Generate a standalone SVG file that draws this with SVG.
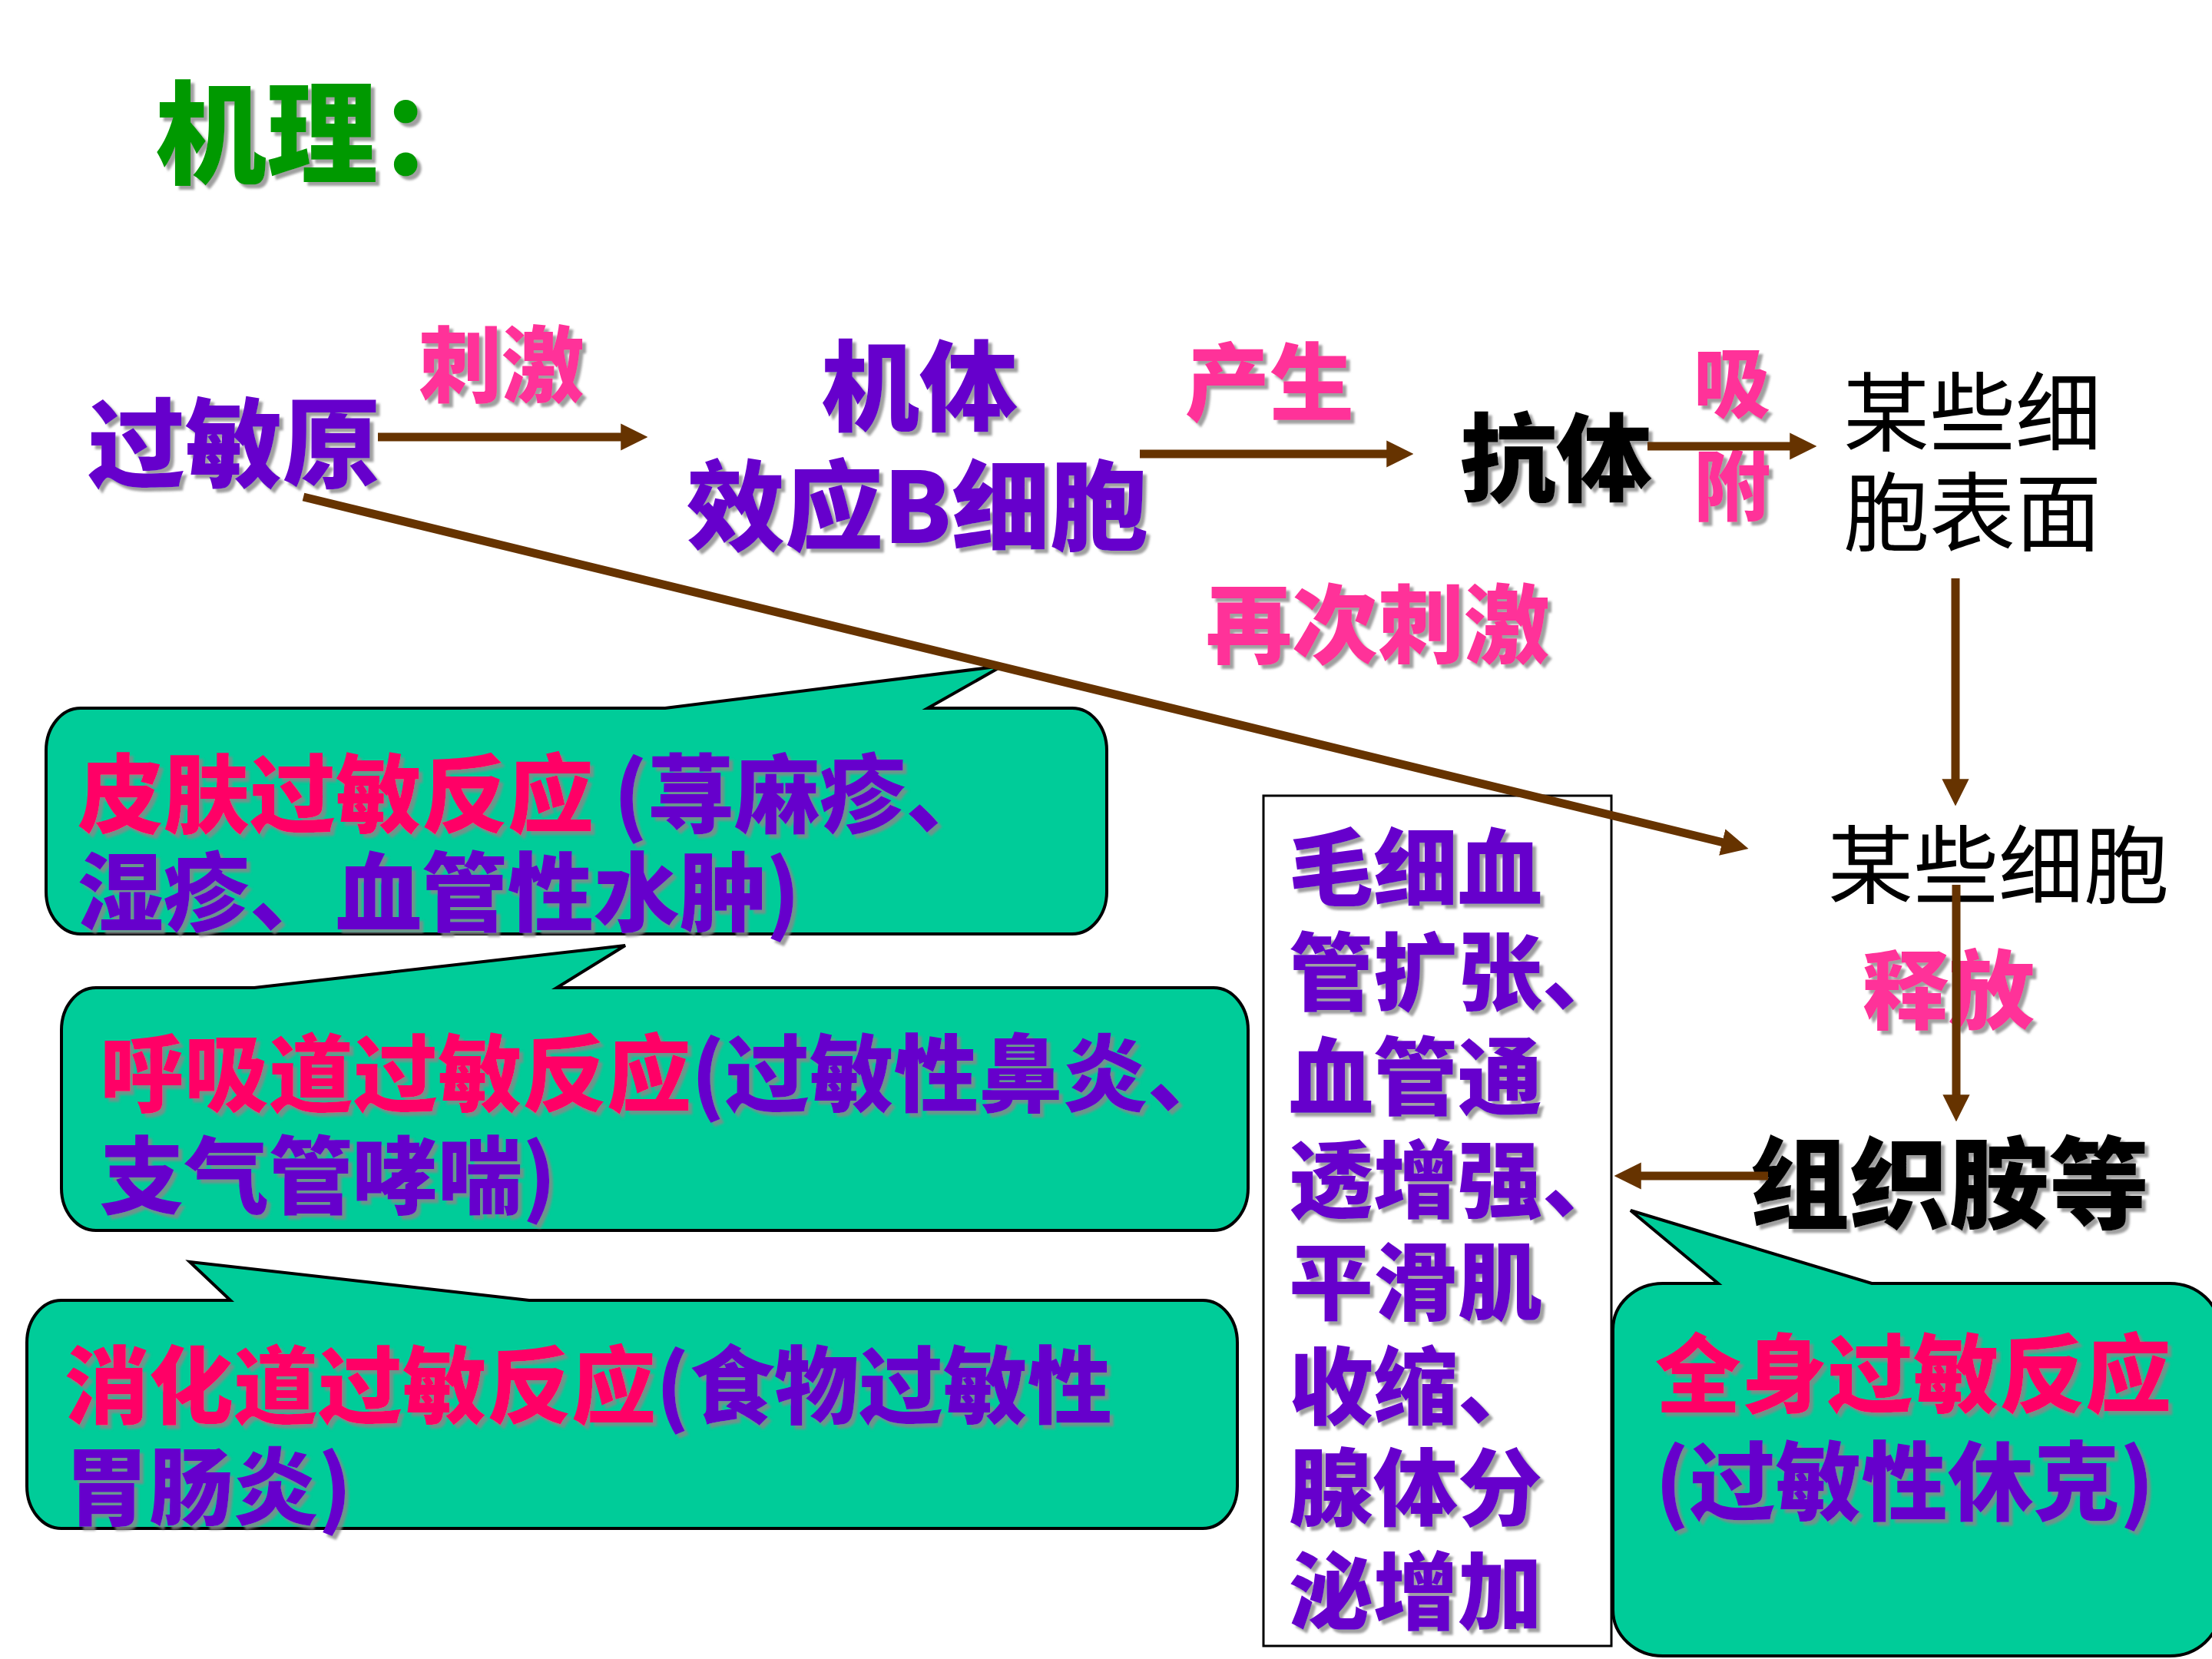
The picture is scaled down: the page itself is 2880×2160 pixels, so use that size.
<svg xmlns="http://www.w3.org/2000/svg" width="2880" height="2160" viewBox="0 0 2880 2160">
<defs>
<style>
.b{font-family:"Noto Sans CJK SC","Noto Sans",sans-serif;font-weight:900;filter:url(#sh)}
.n{font-family:"Noto Sans CJK SC","Noto Sans",sans-serif;font-weight:400;fill:#000}
.pu{fill:#6600CC}
.pk{fill:#FF3399}
.rd{fill:#FF0066}
.bk{fill:#000}
.gr{fill:#009900}
.bub{fill:#00CC99;stroke:#000;stroke-width:4}
.con line{stroke:#663300;stroke-width:11;marker-end:url(#ah)}
</style>
<filter id="sh" x="-10%" y="-10%" width="130%" height="130%">
<feDropShadow dx="5" dy="5" stdDeviation="1.5" flood-color="#888" flood-opacity="0.8"/>
</filter>
<marker id="ah" viewBox="0 0 10 10" refX="0.5" refY="5" markerWidth="3.2" markerHeight="3.2" orient="auto" markerUnits="strokeWidth">
<path d="M0,0 L10,5 L0,10 Z" fill="#663300"/>
</marker>
</defs>
<rect width="2880" height="2160" fill="#fff"/>

<g id="title"><text class="b gr" x="202" y="228" font-size="145">机理：</text></g>

<g id="allergen"><text class="b pu" x="114" y="625" font-size="127">过敏原</text></g>
<g id="label-stim"><text class="b pk" x="545" y="515" font-size="108">刺激</text></g>
<g id="bcell"><text class="b pu" font-size="128"><tspan x="1069" y="551">机体</tspan><tspan x="894" y="707">效应B细胞</tspan></text></g>
<g id="label-produce"><text class="b pk" x="1543" y="539" font-size="110">产生</text></g>
<g id="antibody"><text class="b bk" x="1901" y="643" font-size="125">抗体</text></g>
<g id="label-adsorb"><text class="b pk" font-size="100"><tspan x="2205" y="536">吸</tspan><tspan x="2205" y="670">附</tspan></text></g>
<g id="cell-surface"><text class="n" font-size="112"><tspan x="2400" y="579">某些细</tspan><tspan x="2400" y="709">胞表面</tspan></text></g>
<g id="label-restim"><text class="b pk" x="1570" y="855" font-size="112">再次刺激</text></g>
<g id="cells"><text class="n" x="2380" y="1168" font-size="111">某些细胞</text></g>
<g id="label-release"><text class="b pk" x="2425" y="1331" font-size="112">释放</text></g>
<g id="histamine"><text class="b bk" x="2278" y="1589" font-size="130">组织胺等</text></g>

<g id="effects">
<rect x="1645" y="1036" width="453" height="1107" fill="#fff" stroke="#000" stroke-width="3"/>
<text class="b pu" font-size="110">
<tspan x="1678" y="1171">毛细血</tspan>
<tspan x="1678" y="1307">管扩张、</tspan>
<tspan x="1678" y="1443">血管通</tspan>
<tspan x="1678" y="1577">透增强、</tspan>
<tspan x="1678" y="1710">平滑肌</tspan>
<tspan x="1678" y="1846">收缩、</tspan>
<tspan x="1678" y="1978">腺体分</tspan>
<tspan x="1678" y="2113">泌增加</tspan>
</text>
</g>

<g id="skin">
<path class="bub" d="M105,922 H866 L1305,867 L1208,922 H1396 A45,55 0 0 1 1441,977 V1161 A45,55 0 0 1 1396,1216 H105 A45,55 0 0 1 60,1161 V977 A45,55 0 0 1 105,922 Z"/>
<text class="b" font-size="112"><tspan class="rd" x="101" y="1076">皮肤过敏反应 </tspan><tspan class="pu">(荨麻疹、</tspan><tspan class="pu" x="101" y="1204">湿疹、血管性水肿)</tspan></text>
</g>

<g id="respiratory">
<path class="bub" d="M125,1286 H331 L814,1231 L725,1286 H1580 A45,55 0 0 1 1625,1341 V1547 A45,55 0 0 1 1580,1602 H125 A45,55 0 0 1 80,1547 V1341 A45,55 0 0 1 125,1286 Z"/>
<text class="b" font-size="110"><tspan class="rd" x="130" y="1439">呼吸道过敏反应</tspan><tspan class="pu">(过敏性鼻炎、</tspan><tspan class="pu" x="130" y="1572">支气管哮喘)</tspan></text>
</g>

<g id="digestive">
<path class="bub" d="M80,1693 H300 L247,1643 L689,1693 H1566 A45,55 0 0 1 1611,1748 V1935 A45,55 0 0 1 1566,1990 H80 A45,55 0 0 1 35,1935 V1748 A45,55 0 0 1 80,1693 Z"/>
<text class="b" font-size="110"><tspan class="rd" x="84" y="1845">消化道过敏反应</tspan><tspan class="pu">(食物过敏性</tspan><tspan class="pu" x="84" y="1977">胃肠炎)</tspan></text>
</g>

<g id="systemic">
<path class="bub" d="M2165,1671 H2237 L2123,1576 L2437,1671 H2825 A65,60 0 0 1 2890,1731 V2096 A65,60 0 0 1 2825,2156 H2165 A65,60 0 0 1 2100,2096 V1731 A65,60 0 0 1 2165,1671 Z"/>
<text class="b" font-size="112"><tspan class="rd" x="2155" y="1831">全身过敏反应</tspan><tspan class="pu" x="2155" y="1971">(过敏性休克)</tspan></text>
</g>

<g id="connectors" class="con">
<line x1="492" y1="569" x2="810" y2="569"/>
<line x1="1484" y1="591" x2="1807" y2="591"/>
<line x1="2145" y1="581" x2="2332" y2="581"/>
<line x1="2546" y1="753" x2="2546" y2="1016"/>
<line x1="395" y1="647" x2="2244" y2="1097"/>
<line x1="2547" y1="1152" x2="2547" y2="1427"/>
<line x1="2302" y1="1531" x2="2135" y2="1531"/>
</g>
</svg>
